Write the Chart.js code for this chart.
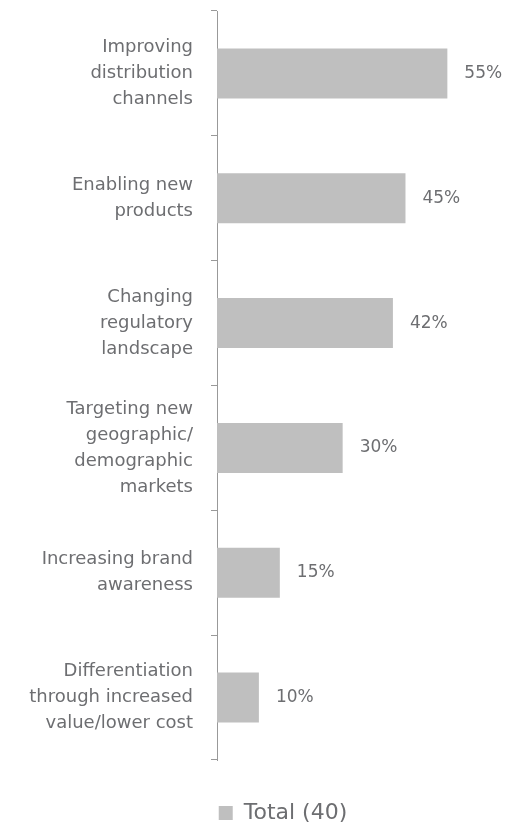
<!DOCTYPE html>
<html>
<head>
<meta charset="utf-8">
<script src="https://cdn.jsdelivr.net/npm/chart.js@4/dist/chart.umd.min.js"></script>
<style>
  html, body { margin: 0; padding: 0; background: #fff; }
  #wrap { width: 506px; height: 825px; position: relative; }
</style>
</head>
<body>
<div id="wrap"><canvas id="c"></canvas></div>
<script>
const categories = [
  ["Improving", "distribution", "channels"],
  ["Enabling new", "products"],
  ["Changing", "regulatory", "landscape"],
  ["Targeting new", "geographic/", "demographic", "markets"],
  ["Increasing brand", "awareness"],
  ["Differentiation", "through increased", "value/lower cost"]
];
const totalValues = [55, 45, 42, 30, 15, 10];
const seriesName = "Total (40)";

const textColor = "#6d6e71";
const barColor = "#bfbfbf";
const axisColor = "#999999";
const fontFamily = "'DejaVu Sans', sans-serif";

const valueLabels = {
  id: "valueLabels",
  afterLayout(chart) {
    // shift the legend row slightly right, as in the reference
    if (chart.legend) { chart.legend.left += 60; }
  },
  afterDatasetsDraw(chart) {
    const ctx = chart.ctx;
    const meta = chart.getDatasetMeta(0);
    ctx.save();
    ctx.fillStyle = textColor;
    ctx.font = "17px " + fontFamily;
    ctx.textAlign = "left";
    ctx.textBaseline = "middle";
    meta.data.forEach((el, i) => {
      ctx.fillText(totalValues[i] + "%", el.x + 17, el.y);
    });
    ctx.restore();
  }
};

new Chart(document.getElementById("c"), {
  type: "bar",
  data: {
    labels: categories,
    datasets: [{
      label: seriesName,
      data: totalValues,
      backgroundColor: barColor,
      borderWidth: 0,
      barPercentage: 0.4,
      categoryPercentage: 1.0
    }]
  },
  options: {
    indexAxis: "y",
    responsive: true,
    maintainAspectRatio: false,
    animation: false,
    layout: { padding: { left: 0, right: 0, top: 11, bottom: -9 } },
    scales: {
      x: {
        display: true,
        min: 0,
        max: 69,
        afterFit(scale) { scale.height = 42; },
        grid: { display: false },
        border: { display: false },
        ticks: { display: false }
      },
      y: {
        afterFit(scale) {
          scale.width = 217;
          scale.paddingTop = 0;
          scale.paddingBottom = 0;
        },
        grid: {
          offset: true,
          drawOnChartArea: false,
          drawTicks: true,
          tickLength: 6,
          color: axisColor,
          lineWidth: 1
        },
        border: { display: true, color: axisColor, width: 1 },
        ticks: {
          color: textColor,
          padding: 18,
          font: { family: fontFamily, size: 18, lineHeight: "26px" }
        }
      }
    },
    plugins: {
      legend: {
        position: "bottom",
        labels: {
          color: textColor,
          boxWidth: 14,
          boxHeight: 14,
          padding: 0,
          font: { family: fontFamily, size: 22 }
        }
      },
      tooltip: { enabled: false }
    }
  },
  plugins: [valueLabels]
});
</script>
</body>
</html>
